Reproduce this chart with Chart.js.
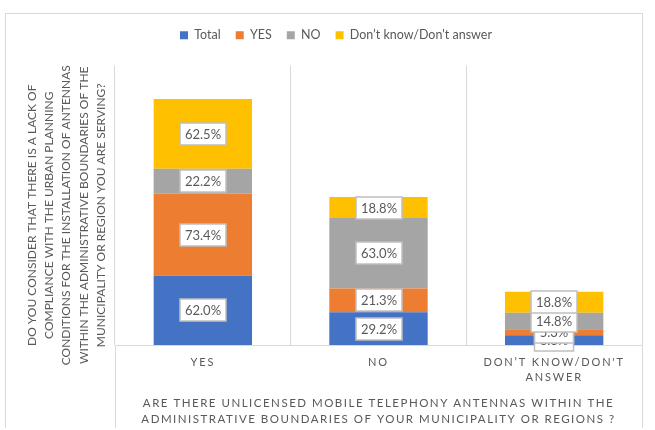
<!doctype html>
<html>
<head>
<meta charset="utf-8">
<title>Unlicensed mobile telephony antennas</title>
<script src="https://cdn.jsdelivr.net/npm/chart.js"></script>
<style>
  body { margin: 0; background: #fff; }
  .frame { position: absolute; left: 5px; top: 13px; width: 636px; height: 414px; border: 1px solid #d9d9d9; border-bottom: none; }
  canvas { display: block; }
</style>
</head>
<body>
<div class="frame"><canvas id="chart" width="636" height="414"></canvas></div>
<script>
// Answers to the first question, split by answers to the second one
var categories = ['YES', 'NO', ['DON\u2019T KNOW/DON\'T', 'ANSWER']];
var seriesNames = ['Total', 'YES', 'NO', 'Don\u2019t know/Don\'t answer'];
var totalValues = [62.0, 29.2, 8.8];
var yesValues = [73.4, 21.3, 5.3];
var noValues = [22.2, 63.0, 14.8];
var dontKnowValues = [62.5, 18.8, 18.8];
var seriesColors = ['#4472C4', '#ED7D31', '#A5A5A5', '#FFC000'];

var yTitle = [
    'DO YOU CONSIDER THAT THERE IS A LACK OF',
    'COMPLIANCE WITH THE URBAN PLANNING',
    'CONDITIONS FOR THE INSTALLATION OF ANTENNAS',
    'WITHIN THE ADMINISTRATIVE BOUNDARIES OF THE',
    'MUNICIPALITY OR REGION YOU ARE SERVING?'
];
var xTitle = [
    'ARE THERE UNLICENSED MOBILE TELEPHONY ANTENNAS WITHIN THE',
    'ADMINISTRATIVE BOUNDARIES OF YOUR MUNICIPALITY OR REGIONS ?'
];

var grey = '#595959', lineGrey = '#d9d9d9';

// wrap a scale draw method so it runs with some ctx tweak
function wrapDraw(scale, name, tweak) {
    var orig = scale[name];
    scale[name] = function() {
        var ctx = this.ctx;
        ctx.save();
        tweak(ctx);
        orig.apply(this, arguments);
        ctx.restore();
    };
}

// white value boxes in the middle of every segment
var valueBoxes = {
    id: 'valueBoxes',
    afterDatasetsDraw: function(chart) {
        var ctx = chart.ctx;
        ctx.save();
        ctx.font = '13px Lato';
        ctx.textAlign = 'center';
        ctx.textBaseline = 'middle';
        chart.data.datasets.forEach(function(ds, i) {
            chart.getDatasetMeta(i).data.forEach(function(bar, j) {
                var text = ds.data[j].toFixed(1) + '%';
                var w = Math.round(ctx.measureText(text).width) + 10, h = 22;
                var cx = Math.round(bar.x), cy = Math.round((bar.y + bar.base) / 2);
                ctx.fillStyle = '#fff';
                ctx.fillRect(cx - w / 2, cy - h / 2, w, h);
                ctx.strokeStyle = '#bfbfbf';
                ctx.lineWidth = 1.5;
                ctx.strokeRect(cx - w / 2, cy - h / 2, w, h);
                ctx.fillStyle = grey;
                ctx.fillText(text, cx, cy + 1);
            });
        });
        ctx.restore();
    }
};

// spacing of the legend and axis texts
var axisTweaks = {
    id: 'axisTweaks',
    afterInit: function(chart) {
        var fit = chart.legend.fit;
        chart.legend.fit = function() {
            fit.apply(this, arguments);
            this.height += 14;
        };
    },
    afterLayout: function(chart) {
        chart.legend.left += 12;
        chart.legend.right += 12;
        if (chart._tweaked) return;
        chart._tweaked = true;
        wrapDraw(chart.scales.x, 'drawTitle', function(ctx) { ctx.letterSpacing = '1.5px'; });
        wrapDraw(chart.scales.x, 'drawLabels', function(ctx) { ctx.letterSpacing = '1.85px'; });
        wrapDraw(chart.scales.y, 'drawTitle', function(ctx) { ctx.translate(0, 10); });
    },
    afterDraw: function(chart) {
        var ctx = chart.ctx, a = chart.chartArea;
        ctx.save();
        ctx.strokeStyle = lineGrey;
        ctx.lineWidth = 1;
        ctx.beginPath();
        ctx.moveTo(a.left + 0.5, a.bottom);
        ctx.lineTo(a.left + 0.5, chart.height);
        ctx.stroke();
        ctx.restore();
    }
};

var seriesValues = [totalValues, yesValues, noValues, dontKnowValues];

new Chart(document.getElementById('chart'), {
    type: 'bar',
    data: {
        labels: categories,
        datasets: seriesValues.map(function(vals, i) {
            return {
                label: seriesNames[i],
                data: vals,
                backgroundColor: seriesColors[i],
                borderWidth: 0,
                barPercentage: 0.56,
                categoryPercentage: 1
            };
        })
    },
    options: {
        responsive: false,
        animation: false,
        layout: { padding: 0 },
        plugins: {
            tooltip: { enabled: false },
            legend: {
                position: 'top',
                labels: {
                    boxWidth: 8,
                    boxHeight: 8,
                    padding: 15,
                    color: grey,
                    font: { family: 'Lato', size: 12.5 }
                }
            }
        },
        scales: {
            x: {
                stacked: true,
                grid: { color: lineGrey, drawTicks: false, offset: true },
                border: { color: lineGrey },
                ticks: {
                    color: grey,
                    padding: 10,
                    maxRotation: 0,
                    minRotation: 0,
                    autoSkip: false,
                    font: { family: 'Lato', size: 11, lineHeight: 1.36 }
                },
                title: {
                    display: true,
                    text: xTitle,
                    color: grey,
                    padding: { top: 0, bottom: 1 },
                    font: { family: 'Lato', size: 11.5, lineHeight: 1.39 }
                },
                afterFit: function(s) { s.height = 83; }
            },
            y: {
                stacked: true,
                min: 0,
                max: 250,
                ticks: { display: false },
                grid: { display: false },
                border: { display: false },
                title: {
                    display: true,
                    text: yTitle,
                    color: grey,
                    padding: { top: 17, bottom: 0 },
                    font: { family: 'Lato', size: 12, lineHeight: 1.45 }
                },
                afterFit: function(s) { s.width = 109; }
            }
        }
    },
    plugins: [valueBoxes, axisTweaks]
});
</script>
</body>
</html>
